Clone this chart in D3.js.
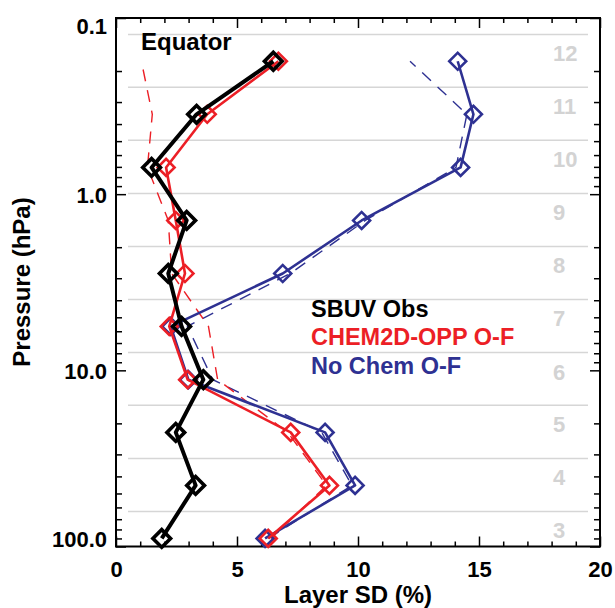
<!DOCTYPE html>
<html>
<head>
<meta charset="utf-8">
<script src="https://cdn.jsdelivr.net/npm/d3@7"></script>
<style>
  html, body { margin: 0; padding: 0; background: #fff; }
  svg { display: block; }
  text { font-family: "Liberation Sans", Arial, Helvetica, sans-serif; font-weight: bold; }
</style>
</head>
<body>
<svg id="chart" width="615" height="608"></svg>
<script>
// ---- data (layers 3 .. 12, bottom to top) ----
const layerNumbers = [3, 4, 5, 6, 7, 8, 9, 10, 11, 12];
const layerPressure = [90.0, 45.0, 22.5, 11.3, 5.63, 2.82, 1.41, 0.705, 0.352, 0.176];
const layerBoundaries = [63.3, 31.7, 15.8, 7.92, 3.96, 1.98, 0.99, 0.495, 0.247, 0.124];
const sbuvObs      = [1.89, 3.29, 2.47, 3.61, 2.71, 2.16, 2.92, 1.47, 3.33, 6.50];
const chemOF       = [6.29, 8.82, 7.22, 2.96, 2.20, 2.85, 2.47, 2.07, 3.77, 6.71];
const noChemOF     = [6.16, 9.88, 8.64, 2.99, 2.26, 6.89, 10.15, 14.24, 14.77, 14.12];
const chemDashed   = [6.40, 8.70, 7.10, 4.20, 3.82, 2.30, 2.16, 1.30, 1.50, 1.05];
const noChemDashed = [6.30, 9.75, 8.50, 4.00, 2.95, 7.20, 10.30, 14.05, 14.50, 12.15];
const xTickValues = [0, 5, 10, 15, 20];
const yTickValues = [0.1, 1, 10, 100];
const yTickLabels = ["0.1", "1.0", "10.0", "100.0"];
const legendLabels = ["SBUV Obs", "CHEM2D-OPP O-F", "No Chem O-F"];
const titleText = "Equator";
const xTitle = "Layer SD (%)";
const yTitle = "Pressure (hPa)";

// ---- layout ----
const RED = "#ec1f26", BLUE = "#2e3192", GRID = "#d6d6d6";
const L = 116, R = 600, T = 18, B = 546.5;
const svg = d3.select("#chart");
const x = d3.scaleLinear().domain([0, 20]).range([L, R]);
const y = d3.scaleLog().domain([0.1, 100]).range([T, B]);

// gridlines (layer boundaries)
svg.append("g").selectAll("line").data(layerBoundaries).join("line")
  .attr("x1", L + 12).attr("x2", R - 12)
  .attr("y1", d => y(d)).attr("y2", d => y(d))
  .attr("stroke", GRID).attr("stroke-width", 1.5);

// layer numbers
svg.append("g").selectAll("text").data(layerNumbers).join("text")
  .attr("x", 553).attr("y", (d, i) => y(layerPressure[i]))
  .attr("font-size", 22).attr("fill", "#d3d3d3")
  .text(d => d);

// axes
const minorX = d3.range(0, 21, 1).filter(v => v % 5 !== 0);
const minorY = [];
[0.1, 1, 10].forEach(dec => { for (let k = 2; k <= 9; k++) minorY.push(dec * k); });

function styleAxis(g) {
  g.select(".domain").remove();
  g.selectAll(".tick line").attr("stroke", "#000").attr("stroke-width", 1.5);
}
svg.append("g").attr("transform", `translate(0,${B})`)
  .call(d3.axisBottom(x).tickValues(xTickValues).tickSize(-10).tickPadding(15).tickFormat(d3.format("d")))
  .call(styleAxis)
  .selectAll("text").attr("font-size", 22).attr("fill", "#000")
  .style("font-family", '"Liberation Sans", Arial, sans-serif').style("font-weight", "bold");
svg.append("g").attr("transform", `translate(0,${B})`)
  .call(d3.axisBottom(x).tickValues(minorX).tickSize(-5).tickFormat(""))
  .call(styleAxis);
svg.append("g").attr("transform", `translate(0,${T})`)
  .call(d3.axisTop(x).tickValues(xTickValues).tickSize(-10).tickFormat(""))
  .call(styleAxis);
svg.append("g").attr("transform", `translate(0,${T})`)
  .call(d3.axisTop(x).tickValues(minorX).tickSize(-5).tickFormat(""))
  .call(styleAxis);

const yLabelShift = [8, 1, 1, -7];
svg.append("g").attr("transform", `translate(${L},0)`)
  .call(d3.axisLeft(y).tickValues(yTickValues).tickSize(-10).tickPadding(9)
    .tickFormat((d, i) => yTickLabels[i]))
  .call(styleAxis)
  .selectAll("text").attr("font-size", 22).attr("fill", "#000")
  .attr("y", (d, i) => yLabelShift[i])
  .style("font-family", '"Liberation Sans", Arial, sans-serif').style("font-weight", "bold");
svg.append("g").attr("transform", `translate(${L},0)`)
  .call(d3.axisLeft(y).tickValues(minorY).tickSize(-6).tickFormat(""))
  .call(styleAxis);
svg.append("g").attr("transform", `translate(${R},0)`)
  .call(d3.axisRight(y).tickValues(yTickValues).tickSize(-10).tickFormat(""))
  .call(styleAxis);
svg.append("g").attr("transform", `translate(${R},0)`)
  .call(d3.axisRight(y).tickValues(minorY).tickSize(-6).tickFormat(""))
  .call(styleAxis);

// frame
svg.append("rect").attr("x", L).attr("y", T).attr("width", R - L).attr("height", B - T)
  .attr("fill", "none").attr("stroke", "#000").attr("stroke-width", 2);

// series
const line = vals => d3.line()
  .x((d, i) => x(vals[i]))
  .y((d, i) => y(layerPressure[i]))(layerPressure);

function dashed(vals, color) {
  svg.append("path").attr("d", line(vals)).attr("fill", "none")
    .attr("stroke", color).attr("stroke-width", 1.4).attr("stroke-dasharray", "12,9");
}
function series(vals, color, lw, size, sw) {
  svg.append("path").attr("d", line(vals)).attr("fill", "none")
    .attr("stroke", color).attr("stroke-width", lw).attr("stroke-linejoin", "round");
  const sym = d3.symbol().type(d3.symbolSquare).size(size * size);
  svg.append("g").selectAll("path").data(vals).join("path")
    .attr("d", sym)
    .attr("transform", (d, i) => `translate(${x(d)},${y(layerPressure[i])}) rotate(45)`)
    .attr("fill", "none").attr("stroke", color).attr("stroke-width", sw);
}
dashed(noChemDashed, BLUE);
dashed(chemDashed, RED);
series(noChemOF, BLUE, 2.6, 12, 2.6);
series(chemOF, RED, 2.6, 12, 2.6);
series(sbuvObs, "#000", 4, 12.5, 3.6);

// title
svg.append("text").attr("x", 141).attr("y", 50).attr("font-size", 24).attr("fill", "#000").text(titleText);

// legend
const legendColors = ["#000", RED, BLUE];
const legendY = [317, 345, 374];
svg.append("g").selectAll("text").data(legendLabels).join("text")
  .attr("x", 311).attr("y", (d, i) => legendY[i])
  .attr("font-size", 23.5).attr("fill", (d, i) => legendColors[i])
  .text(d => d);

// axis titles
svg.append("text").attr("x", (L + R) / 2).attr("y", 603).attr("text-anchor", "middle")
  .attr("font-size", 24).attr("fill", "#000").text(xTitle);
svg.append("text").attr("transform", "translate(30,282) rotate(-90)").attr("text-anchor", "middle")
  .attr("font-size", 24).attr("fill", "#000").text(yTitle);
</script>
</body>
</html>
